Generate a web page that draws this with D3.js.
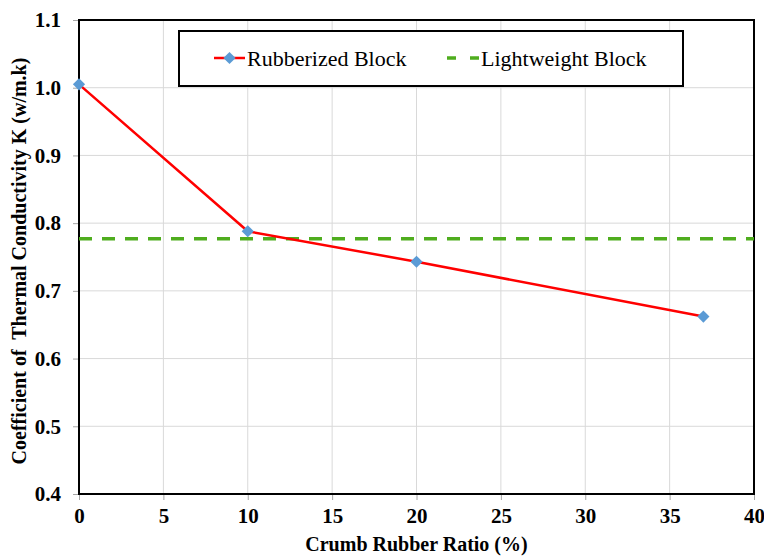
<!DOCTYPE html>
<html>
<head>
<meta charset="utf-8">
<script src="https://cdn.jsdelivr.net/npm/d3@7"></script>
<style>
  body { margin: 0; background: #fff; }
  svg text { font-family: 'Liberation Serif', 'Times New Roman', serif !important; }
</style>
</head>
<body>
<div id="chart"></div>
<script>
// data
const ratios = [0, 10, 20, 37];
const conductivity = [1.005, 0.788, 0.743, 0.662];
const lightweightK = 0.777;
const xTicks = [0, 5, 10, 15, 20, 25, 30, 35, 40];
const yTicks = [0.4, 0.5, 0.6, 0.7, 0.8, 0.9, 1.0, 1.1];
const seriesNames = ["Rubberized Block", "Lightweight Block"];

const FONT = "'Liberation Serif'";
const W = 764, H = 556;
const margin = {top: 20, right: 10, bottom: 62, left: 79};
const width = W - margin.left - margin.right;
const height = H - margin.top - margin.bottom;

const svg = d3.select("#chart").append("svg")
  .attr("width", W)
  .attr("height", H);

const g = svg.append("g")
  .attr("transform", `translate(${margin.left},${margin.top})`);

const x = d3.scaleLinear().domain([0, 40]).range([0, width]);
const y = d3.scaleLinear().domain([0.4, 1.1]).range([height, 0]);

// grid
g.append("g").selectAll("line")
  .data(xTicks.slice(1, -1))
  .enter().append("line")
  .attr("x1", d => x(d)).attr("x2", d => x(d))
  .attr("y1", 0).attr("y2", height)
  .attr("stroke", "#d9d9d9").attr("stroke-width", 1);
g.append("g").selectAll("line")
  .data(yTicks.slice(1, -1))
  .enter().append("line")
  .attr("x1", 0).attr("x2", width)
  .attr("y1", d => y(d)).attr("y2", d => y(d))
  .attr("stroke", "#d9d9d9").attr("stroke-width", 1);

// axes
const xAxis = g.append("g")
  .attr("transform", `translate(0,${height})`)
  .call(d3.axisBottom(x).tickValues(xTicks).tickSize(6).tickPadding(8).tickFormat(d3.format("d")));
const yAxis = g.append("g")
  .call(d3.axisLeft(y).tickValues(yTicks).tickSize(6).tickPadding(12).tickFormat(d3.format(".1f")));
[xAxis, yAxis].forEach(a => {
  a.attr("font-family", null);
  a.select(".domain").remove();
  a.selectAll(".tick line").attr("stroke", "#a6a6a6");
  a.selectAll(".tick text")
    .attr("fill", "#000")
    .style("font-family", FONT)
    .style("font-size", "21px")
    .style("font-weight", "bold");
});

// frame
g.append("rect")
  .attr("width", width).attr("height", height)
  .attr("fill", "none").attr("stroke", "#000").attr("stroke-width", 2);

// lightweight reference
g.append("line")
  .attr("x1", 0).attr("x2", width)
  .attr("y1", y(lightweightK)).attr("y2", y(lightweightK))
  .attr("stroke", "#4fad1e").attr("stroke-width", 3.5)
  .attr("stroke-dasharray", "13,10");

// rubberized series
const pts = ratios.map((r, i) => ({r, k: conductivity[i]}));
g.append("path")
  .datum(pts)
  .attr("fill", "none")
  .attr("stroke", "#ff0000")
  .attr("stroke-width", 2.5)
  .attr("d", d3.line().x(d => x(d.r)).y(d => y(d.k)));

const diamond = d3.symbol().type(d3.symbolDiamond2).size(95);
g.selectAll(".pt")
  .data(pts)
  .enter().append("path")
  .attr("class", "pt")
  .attr("transform", d => `translate(${x(d.r)},${y(d.k)})`)
  .attr("d", diamond)
  .attr("fill", "#5b9bd5");

// legend
const legend = svg.append("g");
legend.append("rect")
  .attr("x", 179).attr("y", 31)
  .attr("width", 504).attr("height", 55)
  .attr("fill", "#fff").attr("stroke", "#000").attr("stroke-width", 2);
legend.append("line")
  .attr("x1", 214).attr("x2", 245).attr("y1", 58).attr("y2", 58)
  .attr("stroke", "#ff0000").attr("stroke-width", 2.5);
legend.append("path")
  .attr("transform", "translate(229.5,58)")
  .attr("d", diamond)
  .attr("fill", "#5b9bd5");
legend.append("line")
  .attr("x1", 447).attr("x2", 479).attr("y1", 58).attr("y2", 58)
  .attr("stroke", "#4fad1e").attr("stroke-width", 3.5)
  .attr("stroke-dasharray", "9,14");
legend.selectAll(".lt")
  .data(seriesNames)
  .enter().append("text")
  .attr("class", "lt")
  .attr("x", (d, i) => i === 0 ? 247 : 481)
  .attr("y", 66)
  .style("font-family", FONT)
  .style("font-size", "22px")
  .text(d => d);

// axis titles
svg.append("text")
  .attr("x", margin.left + width / 2)
  .attr("y", 551)
  .attr("text-anchor", "middle")
  .style("font-family", FONT)
  .style("font-size", "20px")
  .style("font-weight", "bold")
  .text("Crumb Rubber Ratio (%)");

svg.append("text")
  .attr("transform", `translate(26,${margin.top + height / 2 + 4}) rotate(-90)`)
  .attr("text-anchor", "middle")
  .style("font-family", FONT)
  .style("font-size", "20px")
  .style("font-weight", "bold")
  .style("white-space", "pre")
  .text("Coefficient of  Thermal Conductivity K (w/m.k)");
</script>
</body>
</html>
